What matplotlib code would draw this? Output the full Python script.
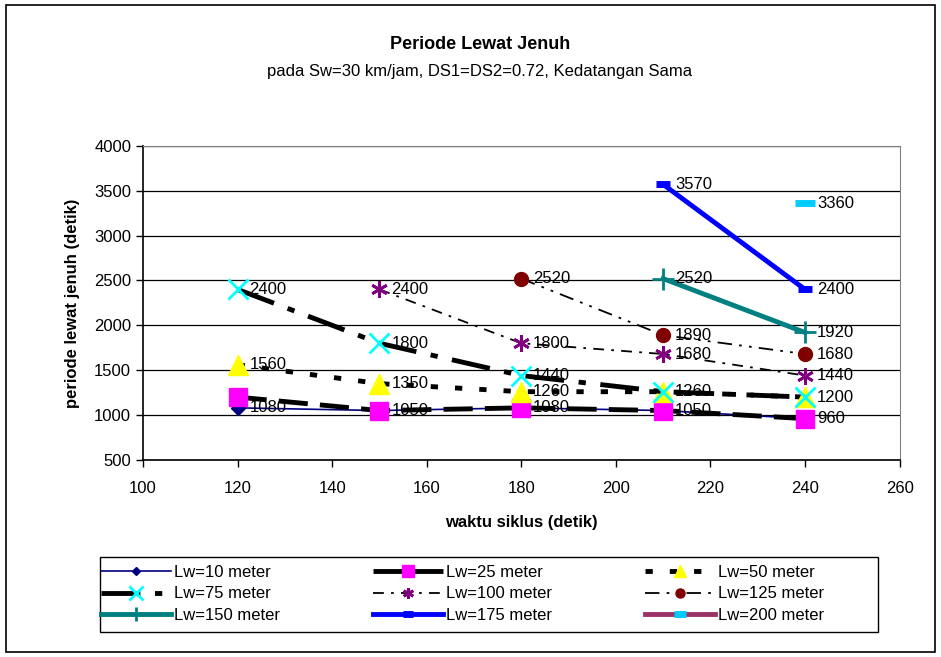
import matplotlib.pyplot as plt
from matplotlib.patches import Rectangle

plt.rcParams['font.family'] = ['Liberation Sans', 'DejaVu Sans']

# waktu siklus (detik)
siklus = [120, 150, 180, 210, 240]

# periode lewat jenuh per lebar weaving (Lw)
lw10 = [1080, 1050, 1080, 1050, 960]
lw25 = [1200, 1050, 1080, 1050, 960]
lw50 = [1560, 1350, 1260, 1260, 1200]
lw75 = [2400, 1800, 1440, 1260, 1200]
lw100_x = [150, 180, 210, 240]
lw100 = [2400, 1800, 1680, 1440]
lw125_x = [180, 210, 240]
lw125 = [2520, 1890, 1680]
lw150_x = [210, 240]
lw150 = [2520, 1920]
lw175_x = [210, 240]
lw175 = [3570, 2400]
lw200_x = [240]
lw200 = [3360]

# label angka yang tampak di grafik
label_x = [120, 120, 120,
           150, 150, 150, 150,
           180, 180, 180, 180, 180,
           210, 210, 210, 210, 210, 210,
           240, 240, 240, 240, 240, 240, 240]
label_y = [2400, 1560, 1080,
           2400, 1800, 1350, 1050,
           2520, 1800, 1440, 1260, 1080,
           3570, 2520, 1890, 1680, 1260, 1050,
           3360, 2400, 1920, 1680, 1440, 1200, 960]

fig = plt.figure(figsize=(9.41, 6.57), dpi=100)
ax = fig.add_axes([0.152, 0.300, 0.804, 0.478])

h = []
h += ax.plot(siklus, lw10, color="#000080", lw=1.2, marker="D", ms=7,
             mfc="#000080", mec="#000080", label="Lw=10 meter", zorder=3)
h += ax.plot(siklus, lw25, color="black", lw=3.5, dashes=(6, 2.5), marker="s", ms=13,
             mfc="#ff00ff", mec="#ff00ff", label="Lw=25 meter", zorder=4)
h += ax.plot(siklus, lw50, color="black", lw=3.5, dashes=(1.5, 3.5), marker="^", ms=14,
             mfc="#ffff00", mec="#ffff00", label="Lw=50 meter", zorder=4)
h += ax.plot(siklus, lw75, color="black", lw=3.5, dashes=(8, 3, 1.5, 3), marker="x", ms=15,
             mew=2, mec="#00ffff", label="Lw=75 meter", zorder=5)
h += ax.plot(lw100_x, lw100, color="black", lw=1.3, dashes=(6, 4, 1.5, 4), marker=(6, 2, 0),
             ms=12, mew=2, mec="#800080", label="Lw=100 meter", zorder=5)
h += ax.plot(lw125_x, lw125, color="black", lw=1.3, dashes=(8, 4, 1.5, 4, 1.5, 4), marker="o",
             ms=10, mfc="#800000", mec="#800000", label="Lw=125 meter", zorder=5)
h += ax.plot(lw150_x, lw150, color="#008080", lw=3.5, marker="+", ms=16, mew=2,
             mec="#008080", label="Lw=150 meter", zorder=5)
h += ax.plot(lw175_x, lw175, color="#0000ff", lw=3.5, marker="_", ms=10, mew=5,
             mec="#0000ff", label="Lw=175 meter", zorder=5)
h += ax.plot(lw200_x, lw200, color="#993366", lw=3.5, marker="_", ms=14, mew=5,
             mec="#00ccff", label="Lw=200 meter", zorder=5)

for x, y in zip(label_x, label_y):
    ax.text(x + 2.5, y, str(y), fontsize=12, va="center", ha="left", zorder=6)

ax.set_xlim(100, 260)
ax.set_ylim(500, 4000)
ax.set_xticks(range(100, 261, 20))
ax.set_yticks(range(500, 4001, 500))
ax.tick_params(labelsize=12, direction="out", length=5, width=1)
ax.tick_params(axis="x", pad=10)
ax.yaxis.grid(True, color="black", lw=0.9)
ax.set_axisbelow(True)
for s in ["top", "right"]:
    ax.spines[s].set_color("#808080")
for s in ["left", "bottom"]:
    ax.spines[s].set_linewidth(1.2)

ax.set_xlabel("waktu siklus (detik)", fontsize=12, fontweight="bold", labelpad=14)
ax.set_ylabel("periode lewat jenuh (detik)", fontsize=12, fontweight="bold", labelpad=10)

fig.text(0.51, 0.926, "Periode Lewat Jenuh", ha="center", fontsize=13, fontweight="bold")
fig.text(0.51, 0.884, "pada Sw=30 km/jam, DS1=DS2=0.72, Kedatangan Sama", ha="center", fontsize=12)

# urutan legenda per baris (matplotlib mengisi per kolom)
urut = [0, 3, 6, 1, 4, 7, 2, 5, 8]
leg = fig.legend([h[i] for i in urut], [h[i].get_label() for i in urut],
                 loc="upper left", bbox_to_anchor=(0.099, 0.038, 0.785, 0.114), mode="expand",
                 ncol=3, fontsize=12, frameon=False,
                 handlelength=4.2, borderaxespad=0, labelspacing=0.41, handletextpad=0.2,
                 borderpad=0.45, numpoints=1, markerscale=0.65)

# bingkai legenda
fig.patches.append(Rectangle((0.106, 0.038), 0.827, 0.114, transform=fig.transFigure,
                             fill=False, edgecolor="black", lw=1.0))
# bingkai luar
fig.patches.append(Rectangle((0.006, 0.008), 0.988, 0.984, transform=fig.transFigure,
                             fill=False, edgecolor="black", lw=1.2))

fig.savefig("out.png", dpi=100)
